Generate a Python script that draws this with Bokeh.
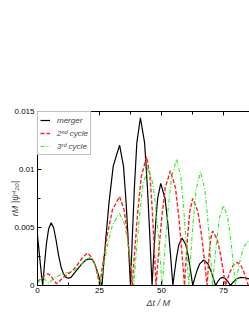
from bokeh.plotting import figure
from bokeh.models import (LinearAxis, FixedTicker, Legend, LegendItem, Title, Range1d)
from bokeh.embed import file_html
from bokeh.resources import INLINE

# ---- data ----
merger_t = [0, 0.8, 1.6, 2.1, 2.8, 3.6, 4.5, 5.5, 6.5, 7.5, 8.5, 9.5, 10.5, 11.5, 12.5, 13.5,
            15, 16.5, 18, 19.5, 21, 22, 23, 24, 25, 26,
            27.42, 28.84, 30.54, 33.1, 34.68, 35.74, 36.62, 37.5,
            38.3, 39.1, 40.06, 41.5, 43.19, 44.32, 45.26, 46.2,
            46.9, 47.6, 48.44, 49.7, 51.46, 52.64, 53.62, 54.6,
            55.34, 56.08, 56.97, 58.3, 59.85, 60.88, 61.74, 62.6,
            63.48, 64.36, 65.42, 67, 68.73, 69.88, 70.84, 71.8,
            72.36, 72.92, 73.59, 74.6, 75.75, 76.52, 77.16, 77.8,
            78.64, 79.48, 80.49, 82, 83.5, 85, 86.5]
merger_amp = [0.0043, 0.0026, 0.0009, 0.0, 0.0018, 0.0036, 0.0049, 0.0054, 0.0050, 0.0039, 0.0026,
              0.0016, 0.0010, 0.0007, 0.00062, 0.0007, 0.0011, 0.0015, 0.0019, 0.0022, 0.0023,
              0.00225, 0.0019, 0.0013, 0.0006, 0.0,
              0.00375, 0.00714, 0.01029, 0.0121, 0.01029, 0.00714, 0.00375, 0.0,
              0.00448, 0.00853, 0.01229, 0.01446, 0.01229, 0.00853, 0.00448, 0.0,
              0.00273, 0.00519, 0.00748, 0.0088, 0.00748, 0.00519, 0.00273, 0.0,
              0.00127, 0.00242, 0.00349, 0.0041, 0.00349, 0.00242, 0.00127, 0.0,
              0.00068, 0.0013, 0.00187, 0.0022, 0.00187, 0.0013, 0.00068, 0.0,
              0.00022, 0.00041, 0.0006, 0.0007, 0.0006, 0.00041, 0.00022, 0.0,
              0.00022, 0.00041, 0.0006, 0.0007, 0.00067, 0.0006, 0.0005]

cycle2_t = [0, 1.5, 3, 4.3, 5.5, 6.7, 7.7, 9, 10.4, 12.5, 14.4, 16.5, 18.5, 20.2, 21.5, 23.1, 24.2, 25.1,
            26.7, 28.3, 30.22, 33.1, 34.94, 36.16, 37.18, 38.2,
            39.36, 40.52, 41.91, 44, 45.37, 46.28, 47.04, 47.8,
            48.96, 50.12, 51.51, 53.6, 55.65, 57.02, 58.16, 59.3,
            59.96, 60.62, 61.41, 62.6, 64.69, 66.08, 67.24, 68.4,
            68.84, 69.28, 69.81, 70.6, 72.47, 73.72, 74.76, 75.8,
            76.74, 77.68, 78.81, 80.5, 82.12, 83.2, 84.1, 85, 86]
cycle2_amp = [0.0003, 0.0006, 0.0009, 0.001, 0.0008, 0.0004, 0.00015, 0.0004, 0.0007, 0.001, 0.00135,
              0.0019, 0.0025, 0.0028, 0.0025, 0.0019, 0.0009, 0.0,
              0.00238, 0.00453, 0.00652, 0.00767, 0.00652, 0.00453, 0.00238, 0.0,
              0.00344, 0.00655, 0.00944, 0.0111, 0.00944, 0.00655, 0.00344, 0.0,
              0.00307, 0.00584, 0.00842, 0.0099, 0.00842, 0.00584, 0.00307, 0.0,
              0.00233, 0.00443, 0.00638, 0.0075, 0.00638, 0.00443, 0.00233, 0.0,
              0.00146, 0.00277, 0.004, 0.0047, 0.004, 0.00277, 0.00146, 0.0,
              0.00062, 0.00118, 0.0017, 0.002, 0.0017, 0.00118, 0.00062, 0.0, 0.0004]

cycle3_t = [0, 1, 2.3, 3.5, 4.5, 6, 8, 10, 12, 14, 16, 18, 19.8, 21, 22.5, 23.8, 24.7, 25.3,
            26.86, 28.42, 30.29, 33.1, 35.15, 36.52, 37.66, 38.8,
            39.96, 41.12, 42.51, 44.6, 46.65, 48.02, 49.16, 50.3,
            51.46, 52.62, 54.01, 56.1, 57.86, 59.04, 60.02, 61,
            61.94, 62.88, 64.01, 65.7, 67.46, 68.64, 69.62, 70.6,
            71.48, 72.36, 73.42, 75, 76.73, 77.88, 78.84, 79.8,
            80.8, 81.8, 83, 84.8, 86.5]
cycle3_amp = [0.0002, 0.0005, 0.0007, 0.0004, 0.0002, 0.0005, 0.0008, 0.001, 0.0011, 0.0012, 0.0015,
              0.0019, 0.0023, 0.0024, 0.0021, 0.0014, 0.0006, 0.0,
              0.00192, 0.00366, 0.00527, 0.0062, 0.00527, 0.00366, 0.00192, 0.0,
              0.00316, 0.00602, 0.00867, 0.0102, 0.00867, 0.00602, 0.00316, 0.0,
              0.00338, 0.00643, 0.00927, 0.0109, 0.00927, 0.00643, 0.00338, 0.0,
              0.00304, 0.00578, 0.00833, 0.0098, 0.00833, 0.00578, 0.00304, 0.0,
              0.00214, 0.00407, 0.00587, 0.0069, 0.00587, 0.00407, 0.00214, 0.0,
              0.00118, 0.00224, 0.00323, 0.0038, 0.0033]

series_names = ["merger", "2\u207f\u1d48 cycle", "3\u02b3\u1d48 cycle"]
x_ticks = [0, 25, 50, 75]
x_minor = [12.5, 37.5, 62.5, 87.5]
y_ticks = [0, 0.005, 0.01, 0.015]
y_minor = [0.0025, 0.0075, 0.0125]
y_tick_labels = ["0", "0.005", "0.01", "0.015"]
x_title = "\u0394t / M"
y_title = "rM |\u03c8\u2074\u2082\u2080|"

FONT = "Liberation Sans"

p = figure(width=249, height=315, output_backend="svg", toolbar_location=None,
           x_range=Range1d(0, 85.5), y_range=Range1d(0, 0.015),
           x_axis_location=None, y_axis_location=None,
           min_border_left=37, min_border_right=0, min_border_top=111, min_border_bottom=30)
p.outline_line_color = None
p.xgrid.visible = False
p.ygrid.visible = False
p.background_fill_color = "white"
p.border_fill_color = "white"

def style_axis(ax, show_labels=True):
    ax.axis_line_color = "black"
    ax.axis_line_width = 1
    ax.major_tick_in = 4
    ax.major_tick_out = 0
    ax.minor_tick_in = 3
    ax.minor_tick_out = 0
    ax.major_tick_line_color = "black"
    ax.minor_tick_line_color = "black"
    ax.major_label_text_font = FONT
    ax.major_label_text_font_size = "8px"
    ax.major_label_text_color = "black" if show_labels else None
    ax.major_label_standoff = 3

xb = LinearAxis(ticker=FixedTicker(ticks=x_ticks, minor_ticks=x_minor))
style_axis(xb)
xb.major_label_standoff = 2
p.add_layout(xb, "below")

xt = LinearAxis(ticker=FixedTicker(ticks=x_ticks, minor_ticks=x_minor))
style_axis(xt, show_labels=False)
xt.major_label_text_font_size = "0px"
p.add_layout(xt, "above")

yl = LinearAxis(ticker=FixedTicker(ticks=y_ticks, minor_ticks=y_minor))
style_axis(yl)
yl.major_label_overrides = {t: s for t, s in zip(y_ticks, y_tick_labels)}
yl.axis_label = y_title
yl.axis_label_text_font = FONT
yl.axis_label_text_font_size = "9px"
yl.axis_label_text_font_style = "italic"
yl.axis_label_standoff = -9
p.add_layout(yl, "left")

r1 = p.line(merger_t, merger_amp, line_color="black", line_width=1.2)
r2 = p.line(cycle2_t, cycle2_amp, line_color="#ff2020", line_width=1.4, line_dash="4 2")
r3 = p.line(cycle3_t, cycle3_amp, line_color="#22ee22", line_width=1.1, line_dash="4 2 1 2")

legend = Legend(items=[LegendItem(label=series_names[0], renderers=[r1]),
                       LegendItem(label=series_names[1], renderers=[r2]),
                       LegendItem(label=series_names[2], renderers=[r3])],
                location="top_left", margin=0, padding=2, spacing=1,
                glyph_width=10, glyph_height=12, label_height=12, label_standoff=7,
                label_text_font=FONT, label_text_font_size="8px",
                label_text_font_style="italic",
                border_line_color="#808080", border_line_width=1,
                background_fill_color="white", background_fill_alpha=1.0)
p.add_layout(legend, "center")

xtitle = Title(text=x_title, align="left", offset=109, standoff=0,
               text_font=FONT, text_font_size="9px", text_font_style="italic")
p.add_layout(xtitle, "below")

open("out.html", "w").write(file_html(p, INLINE))
